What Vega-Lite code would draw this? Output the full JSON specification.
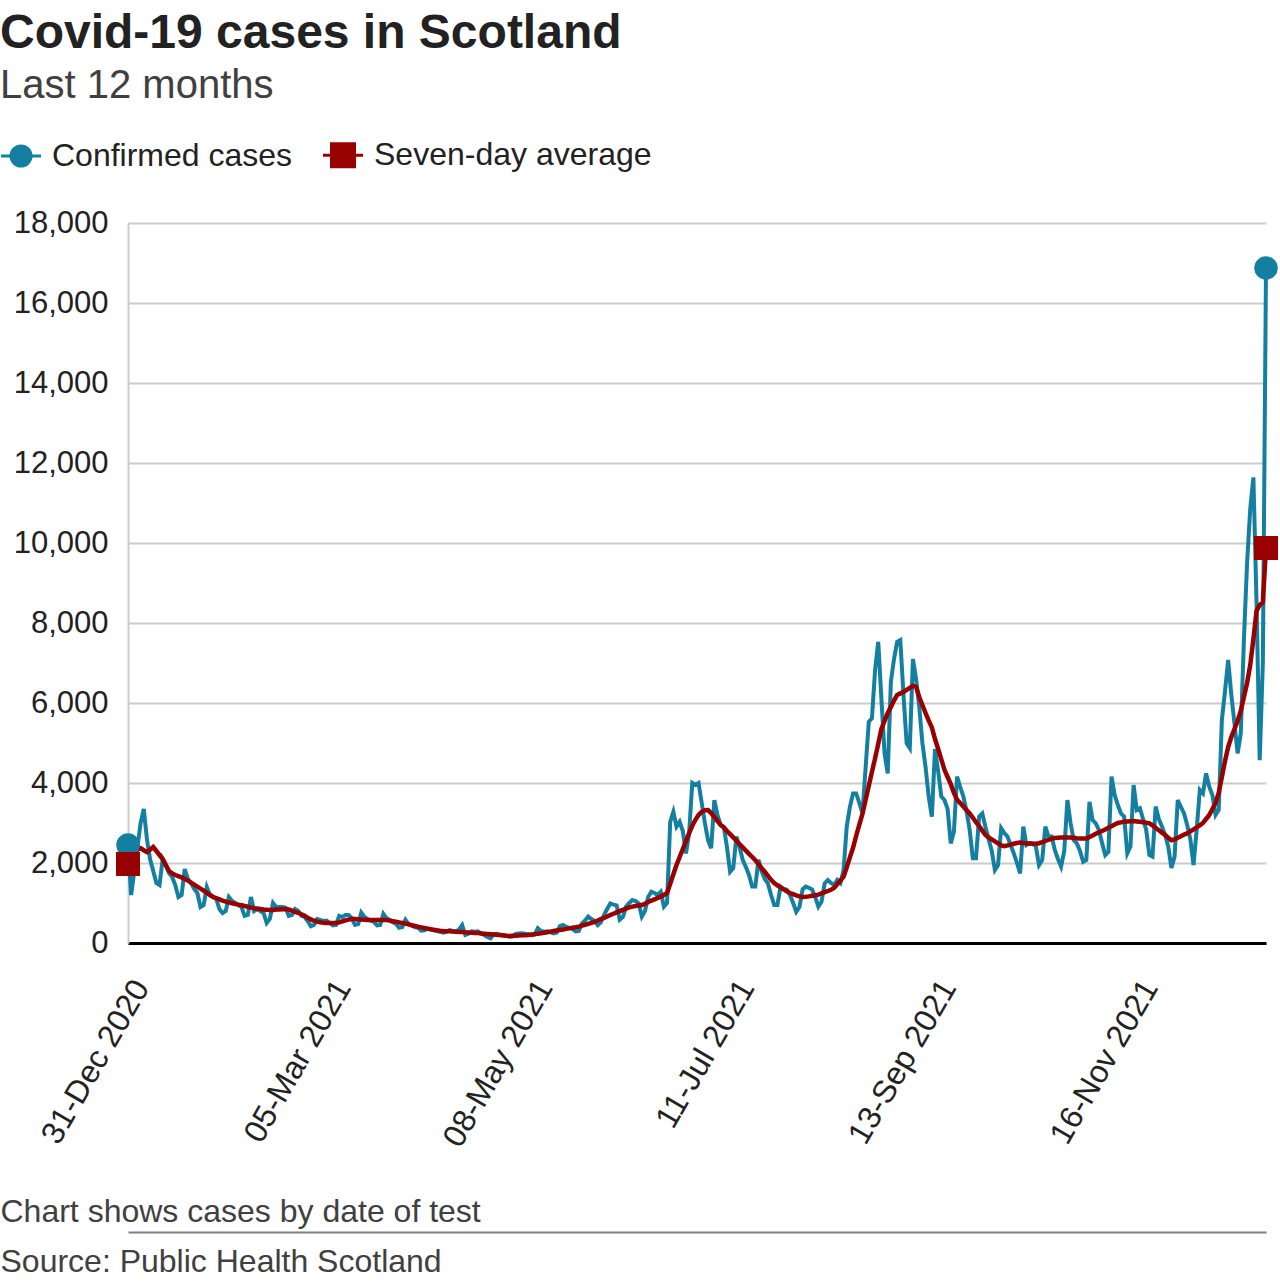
{
  "$schema": "https://vega.github.io/schema/vega-lite/v6.json",
  "width": 1138,
  "height": 720,
  "autosize": {"type": "none"},
  "padding": {"left": 128, "top": 223, "right": 14, "bottom": 345},
  "background": "white",
  "config": {"font": "Liberation Sans", "view": {"stroke": null}},
  "title": {
    "text": "Covid-19 cases in Scotland",
    "subtitle": "Last 12 months",
    "anchor": "start",
    "frame": "group",
    "dx": -128,
    "offset": 33,
    "font": "Liberation Sans",
    "fontSize": 48,
    "fontWeight": "bold",
    "color": "#222222",
    "subtitleFont": "Liberation Sans",
    "subtitleFontSize": 40,
    "subtitleColor": "#404040",
    "subtitlePadding": 8
  },
  "data": {
    "format": {"parse": {"date": "utc:'%Y-%m-%d'"}},
    "values": [
      {"date":"2020-12-31","cases":2450,"avg":1975},
      {"date":"2021-01-01","cases":1200,"avg":2100},
      {"date":"2021-01-02","cases":1800,"avg":2250},
      {"date":"2021-01-03","cases":2400,"avg":2350},
      {"date":"2021-01-04","cases":3000,"avg":2370},
      {"date":"2021-01-05","cases":3350,"avg":2320},
      {"date":"2021-01-06","cases":2600,"avg":2275},
      {"date":"2021-01-07","cases":2100,"avg":2330},
      {"date":"2021-01-08","cases":1800,"avg":2400},
      {"date":"2021-01-09","cases":1500,"avg":2300},
      {"date":"2021-01-10","cases":1450,"avg":2200},
      {"date":"2021-01-11","cases":2100,"avg":2100},
      {"date":"2021-01-12","cases":1950,"avg":1950},
      {"date":"2021-01-13","cases":1750,"avg":1800},
      {"date":"2021-01-14","cases":1650,"avg":1740},
      {"date":"2021-01-15","cases":1450,"avg":1700},
      {"date":"2021-01-16","cases":1150,"avg":1670},
      {"date":"2021-01-17","cases":1200,"avg":1640},
      {"date":"2021-01-18","cases":1850,"avg":1600},
      {"date":"2021-01-19","cases":1600,"avg":1560},
      {"date":"2021-01-20","cases":1500,"avg":1510},
      {"date":"2021-01-21","cases":1350,"avg":1460},
      {"date":"2021-01-22","cases":1250,"avg":1410},
      {"date":"2021-01-23","cases":900,"avg":1360},
      {"date":"2021-01-24","cases":950,"avg":1310},
      {"date":"2021-01-25","cases":1400,"avg":1250},
      {"date":"2021-01-26","cases":1200,"avg":1200},
      {"date":"2021-01-27","cases":1150,"avg":1150},
      {"date":"2021-01-28","cases":1100,"avg":1120},
      {"date":"2021-01-29","cases":850,"avg":1090},
      {"date":"2021-01-30","cases":750,"avg":1060},
      {"date":"2021-01-31","cases":800,"avg":1035},
      {"date":"2021-02-01","cases":1150,"avg":1015},
      {"date":"2021-02-02","cases":1050,"avg":995},
      {"date":"2021-02-03","cases":1000,"avg":975},
      {"date":"2021-02-04","cases":950,"avg":960},
      {"date":"2021-02-05","cases":900,"avg":945},
      {"date":"2021-02-06","cases":680,"avg":925},
      {"date":"2021-02-07","cases":700,"avg":905},
      {"date":"2021-02-08","cases":1150,"avg":885},
      {"date":"2021-02-09","cases":800,"avg":870},
      {"date":"2021-02-10","cases":850,"avg":860},
      {"date":"2021-02-11","cases":800,"avg":850},
      {"date":"2021-02-12","cases":750,"avg":840},
      {"date":"2021-02-13","cases":500,"avg":832},
      {"date":"2021-02-14","cases":600,"avg":825},
      {"date":"2021-02-15","cases":1000,"avg":828},
      {"date":"2021-02-16","cases":900,"avg":835},
      {"date":"2021-02-17","cases":900,"avg":840},
      {"date":"2021-02-18","cases":900,"avg":845},
      {"date":"2021-02-19","cases":880,"avg":850},
      {"date":"2021-02-20","cases":680,"avg":840},
      {"date":"2021-02-21","cases":700,"avg":810},
      {"date":"2021-02-22","cases":850,"avg":780},
      {"date":"2021-02-23","cases":800,"avg":755},
      {"date":"2021-02-24","cases":680,"avg":720},
      {"date":"2021-02-25","cases":650,"avg":680},
      {"date":"2021-02-26","cases":550,"avg":630},
      {"date":"2021-02-27","cases":420,"avg":590},
      {"date":"2021-02-28","cases":450,"avg":560},
      {"date":"2021-03-01","cases":600,"avg":535},
      {"date":"2021-03-02","cases":580,"avg":515},
      {"date":"2021-03-03","cases":550,"avg":505},
      {"date":"2021-03-04","cases":560,"avg":500},
      {"date":"2021-03-05","cases":500,"avg":498},
      {"date":"2021-03-06","cases":440,"avg":498},
      {"date":"2021-03-07","cases":450,"avg":500},
      {"date":"2021-03-08","cases":680,"avg":515},
      {"date":"2021-03-09","cases":650,"avg":540},
      {"date":"2021-03-10","cases":700,"avg":565},
      {"date":"2021-03-11","cases":700,"avg":585},
      {"date":"2021-03-12","cases":620,"avg":598},
      {"date":"2021-03-13","cases":450,"avg":600},
      {"date":"2021-03-14","cases":470,"avg":595},
      {"date":"2021-03-15","cases":760,"avg":588},
      {"date":"2021-03-16","cases":650,"avg":582},
      {"date":"2021-03-17","cases":600,"avg":577},
      {"date":"2021-03-18","cases":560,"avg":575},
      {"date":"2021-03-19","cases":530,"avg":575},
      {"date":"2021-03-20","cases":440,"avg":575},
      {"date":"2021-03-21","cases":450,"avg":575},
      {"date":"2021-03-22","cases":730,"avg":575},
      {"date":"2021-03-23","cases":620,"avg":575},
      {"date":"2021-03-24","cases":580,"avg":560},
      {"date":"2021-03-25","cases":520,"avg":545},
      {"date":"2021-03-26","cases":480,"avg":530},
      {"date":"2021-03-27","cases":380,"avg":515},
      {"date":"2021-03-28","cases":400,"avg":500},
      {"date":"2021-03-29","cases":580,"avg":485},
      {"date":"2021-03-30","cases":470,"avg":465},
      {"date":"2021-03-31","cases":440,"avg":445},
      {"date":"2021-04-01","cases":400,"avg":425},
      {"date":"2021-04-02","cases":380,"avg":405},
      {"date":"2021-04-03","cases":310,"avg":390},
      {"date":"2021-04-04","cases":320,"avg":375},
      {"date":"2021-04-05","cases":360,"avg":360},
      {"date":"2021-04-06","cases":340,"avg":345},
      {"date":"2021-04-07","cases":320,"avg":330},
      {"date":"2021-04-08","cases":300,"avg":318},
      {"date":"2021-04-09","cases":280,"avg":308},
      {"date":"2021-04-10","cases":260,"avg":300},
      {"date":"2021-04-11","cases":280,"avg":296},
      {"date":"2021-04-12","cases":320,"avg":292},
      {"date":"2021-04-13","cases":300,"avg":287},
      {"date":"2021-04-14","cases":290,"avg":282},
      {"date":"2021-04-15","cases":330,"avg":278},
      {"date":"2021-04-16","cases":450,"avg":273},
      {"date":"2021-04-17","cases":200,"avg":268},
      {"date":"2021-04-18","cases":230,"avg":263},
      {"date":"2021-04-19","cases":290,"avg":258},
      {"date":"2021-04-20","cases":280,"avg":253},
      {"date":"2021-04-21","cases":290,"avg":248},
      {"date":"2021-04-22","cases":240,"avg":240},
      {"date":"2021-04-23","cases":200,"avg":233},
      {"date":"2021-04-24","cases":150,"avg":226},
      {"date":"2021-04-25","cases":117,"avg":219},
      {"date":"2021-04-26","cases":220,"avg":212},
      {"date":"2021-04-27","cases":230,"avg":205},
      {"date":"2021-04-28","cases":210,"avg":197},
      {"date":"2021-04-29","cases":200,"avg":190},
      {"date":"2021-04-30","cases":180,"avg":183},
      {"date":"2021-05-01","cases":155,"avg":176},
      {"date":"2021-05-02","cases":160,"avg":180},
      {"date":"2021-05-03","cases":230,"avg":184},
      {"date":"2021-05-04","cases":240,"avg":188},
      {"date":"2021-05-05","cases":245,"avg":192},
      {"date":"2021-05-06","cases":230,"avg":196},
      {"date":"2021-05-07","cases":220,"avg":202},
      {"date":"2021-05-08","cases":190,"avg":212},
      {"date":"2021-05-09","cases":210,"avg":222},
      {"date":"2021-05-10","cases":370,"avg":232},
      {"date":"2021-05-11","cases":300,"avg":243},
      {"date":"2021-05-12","cases":280,"avg":256},
      {"date":"2021-05-13","cases":290,"avg":270},
      {"date":"2021-05-14","cases":270,"avg":284},
      {"date":"2021-05-15","cases":240,"avg":298},
      {"date":"2021-05-16","cases":260,"avg":312},
      {"date":"2021-05-17","cases":420,"avg":325},
      {"date":"2021-05-18","cases":450,"avg":339},
      {"date":"2021-05-19","cases":400,"avg":353},
      {"date":"2021-05-20","cases":380,"avg":366},
      {"date":"2021-05-21","cases":350,"avg":380},
      {"date":"2021-05-22","cases":290,"avg":394},
      {"date":"2021-05-23","cases":300,"avg":410},
      {"date":"2021-05-24","cases":490,"avg":433},
      {"date":"2021-05-25","cases":560,"avg":456},
      {"date":"2021-05-26","cases":660,"avg":479},
      {"date":"2021-05-27","cases":600,"avg":503},
      {"date":"2021-05-28","cases":550,"avg":530},
      {"date":"2021-05-29","cases":450,"avg":562},
      {"date":"2021-05-30","cases":520,"avg":595},
      {"date":"2021-05-31","cases":700,"avg":628},
      {"date":"2021-06-01","cases":850,"avg":661},
      {"date":"2021-06-02","cases":990,"avg":700},
      {"date":"2021-06-03","cases":960,"avg":732},
      {"date":"2021-06-04","cases":940,"avg":765},
      {"date":"2021-06-05","cases":580,"avg":797},
      {"date":"2021-06-06","cases":650,"avg":830},
      {"date":"2021-06-07","cases":910,"avg":862},
      {"date":"2021-06-08","cases":1000,"avg":890},
      {"date":"2021-06-09","cases":1075,"avg":910},
      {"date":"2021-06-10","cases":1050,"avg":925},
      {"date":"2021-06-11","cases":990,"avg":940},
      {"date":"2021-06-12","cases":660,"avg":948},
      {"date":"2021-06-13","cases":800,"avg":980},
      {"date":"2021-06-14","cases":1150,"avg":1025},
      {"date":"2021-06-15","cases":1280,"avg":1060},
      {"date":"2021-06-16","cases":1250,"avg":1090},
      {"date":"2021-06-17","cases":1200,"avg":1125},
      {"date":"2021-06-18","cases":1280,"avg":1160},
      {"date":"2021-06-19","cases":910,"avg":1200},
      {"date":"2021-06-20","cases":1000,"avg":1250},
      {"date":"2021-06-21","cases":3030,"avg":1480},
      {"date":"2021-06-22","cases":3280,"avg":1720},
      {"date":"2021-06-23","cases":2910,"avg":1950},
      {"date":"2021-06-24","cases":3030,"avg":2150},
      {"date":"2021-06-25","cases":2800,"avg":2350},
      {"date":"2021-06-26","cases":2240,"avg":2550},
      {"date":"2021-06-27","cases":2740,"avg":2750},
      {"date":"2021-06-28","cases":4000,"avg":2930},
      {"date":"2021-06-29","cases":3950,"avg":3080},
      {"date":"2021-06-30","cases":4000,"avg":3200},
      {"date":"2021-07-01","cases":3500,"avg":3280},
      {"date":"2021-07-02","cases":3000,"avg":3320},
      {"date":"2021-07-03","cases":2570,"avg":3325},
      {"date":"2021-07-04","cases":2370,"avg":3250},
      {"date":"2021-07-05","cases":3570,"avg":3150},
      {"date":"2021-07-06","cases":3200,"avg":3050},
      {"date":"2021-07-07","cases":2950,"avg":2950},
      {"date":"2021-07-08","cases":2900,"avg":2890},
      {"date":"2021-07-09","cases":2400,"avg":2800},
      {"date":"2021-07-10","cases":1780,"avg":2720},
      {"date":"2021-07-11","cases":1870,"avg":2640},
      {"date":"2021-07-12","cases":2660,"avg":2560},
      {"date":"2021-07-13","cases":2400,"avg":2470},
      {"date":"2021-07-14","cases":2080,"avg":2390},
      {"date":"2021-07-15","cases":1900,"avg":2310},
      {"date":"2021-07-16","cases":1700,"avg":2230},
      {"date":"2021-07-17","cases":1410,"avg":2150},
      {"date":"2021-07-18","cases":1410,"avg":2070},
      {"date":"2021-07-19","cases":2080,"avg":1970},
      {"date":"2021-07-20","cases":1800,"avg":1870},
      {"date":"2021-07-21","cases":1600,"avg":1780},
      {"date":"2021-07-22","cases":1490,"avg":1680},
      {"date":"2021-07-23","cases":1200,"avg":1580},
      {"date":"2021-07-24","cases":950,"avg":1500},
      {"date":"2021-07-25","cases":950,"avg":1440},
      {"date":"2021-07-26","cases":1410,"avg":1390},
      {"date":"2021-07-27","cases":1350,"avg":1340},
      {"date":"2021-07-28","cases":1330,"avg":1290},
      {"date":"2021-07-29","cases":1200,"avg":1250},
      {"date":"2021-07-30","cases":1000,"avg":1220},
      {"date":"2021-07-31","cases":780,"avg":1190},
      {"date":"2021-08-01","cases":900,"avg":1165},
      {"date":"2021-08-02","cases":1340,"avg":1150},
      {"date":"2021-08-03","cases":1410,"avg":1155},
      {"date":"2021-08-04","cases":1380,"avg":1165},
      {"date":"2021-08-05","cases":1340,"avg":1180},
      {"date":"2021-08-06","cases":1150,"avg":1195},
      {"date":"2021-08-07","cases":910,"avg":1210},
      {"date":"2021-08-08","cases":1030,"avg":1240},
      {"date":"2021-08-09","cases":1490,"avg":1270},
      {"date":"2021-08-10","cases":1575,"avg":1300},
      {"date":"2021-08-11","cases":1500,"avg":1330},
      {"date":"2021-08-12","cases":1450,"avg":1380},
      {"date":"2021-08-13","cases":1575,"avg":1470},
      {"date":"2021-08-14","cases":1500,"avg":1560},
      {"date":"2021-08-15","cases":1825,"avg":1660},
      {"date":"2021-08-16","cases":2910,"avg":1890},
      {"date":"2021-08-17","cases":3400,"avg":2140},
      {"date":"2021-08-18","cases":3740,"avg":2380},
      {"date":"2021-08-19","cases":3740,"avg":2680},
      {"date":"2021-08-20","cases":3500,"avg":2960},
      {"date":"2021-08-21","cases":3240,"avg":3230},
      {"date":"2021-08-22","cases":4400,"avg":3580},
      {"date":"2021-08-23","cases":5530,"avg":3930},
      {"date":"2021-08-24","cases":5620,"avg":4280},
      {"date":"2021-08-25","cases":6830,"avg":4620},
      {"date":"2021-08-26","cases":7530,"avg":4980},
      {"date":"2021-08-27","cases":6100,"avg":5350},
      {"date":"2021-08-28","cases":4740,"avg":5550},
      {"date":"2021-08-29","cases":4240,"avg":5750},
      {"date":"2021-08-30","cases":6530,"avg":5900},
      {"date":"2021-08-31","cases":7100,"avg":6060},
      {"date":"2021-09-01","cases":7530,"avg":6200},
      {"date":"2021-09-02","cases":7575,"avg":6240},
      {"date":"2021-09-03","cases":6200,"avg":6275},
      {"date":"2021-09-04","cases":4990,"avg":6330},
      {"date":"2021-09-05","cases":4870,"avg":6380},
      {"date":"2021-09-06","cases":7100,"avg":6430},
      {"date":"2021-09-07","cases":6600,"avg":6400},
      {"date":"2021-09-08","cases":5910,"avg":6150},
      {"date":"2021-09-09","cases":5000,"avg":5950},
      {"date":"2021-09-10","cases":4400,"avg":5750},
      {"date":"2021-09-11","cases":3660,"avg":5560},
      {"date":"2021-09-12","cases":3160,"avg":5390},
      {"date":"2021-09-13","cases":4850,"avg":5100},
      {"date":"2021-09-14","cases":4300,"avg":4850},
      {"date":"2021-09-15","cases":3660,"avg":4590},
      {"date":"2021-09-16","cases":3575,"avg":4330},
      {"date":"2021-09-17","cases":3350,"avg":4150},
      {"date":"2021-09-18","cases":2490,"avg":3970},
      {"date":"2021-09-19","cases":2780,"avg":3750},
      {"date":"2021-09-20","cases":4160,"avg":3580},
      {"date":"2021-09-21","cases":3900,"avg":3500},
      {"date":"2021-09-22","cases":3660,"avg":3410},
      {"date":"2021-09-23","cases":3300,"avg":3320},
      {"date":"2021-09-24","cases":2825,"avg":3240},
      {"date":"2021-09-25","cases":2120,"avg":3130},
      {"date":"2021-09-26","cases":2120,"avg":3020},
      {"date":"2021-09-27","cases":3160,"avg":2920},
      {"date":"2021-09-28","cases":3240,"avg":2810},
      {"date":"2021-09-29","cases":2900,"avg":2700},
      {"date":"2021-09-30","cases":2600,"avg":2640},
      {"date":"2021-10-01","cases":2300,"avg":2590},
      {"date":"2021-10-02","cases":1825,"avg":2540},
      {"date":"2021-10-03","cases":1950,"avg":2490},
      {"date":"2021-10-04","cases":2870,"avg":2440},
      {"date":"2021-10-05","cases":2750,"avg":2420},
      {"date":"2021-10-06","cases":2660,"avg":2440},
      {"date":"2021-10-07","cases":2450,"avg":2460},
      {"date":"2021-10-08","cases":2240,"avg":2480},
      {"date":"2021-10-09","cases":2000,"avg":2500},
      {"date":"2021-10-10","cases":1740,"avg":2510},
      {"date":"2021-10-11","cases":2910,"avg":2500},
      {"date":"2021-10-12","cases":2450,"avg":2490},
      {"date":"2021-10-13","cases":2500,"avg":2485},
      {"date":"2021-10-14","cases":2490,"avg":2480},
      {"date":"2021-10-15","cases":2410,"avg":2480},
      {"date":"2021-10-16","cases":1950,"avg":2495},
      {"date":"2021-10-17","cases":2075,"avg":2520},
      {"date":"2021-10-18","cases":2910,"avg":2550},
      {"date":"2021-10-19","cases":2660,"avg":2580},
      {"date":"2021-10-20","cases":2660,"avg":2610},
      {"date":"2021-10-21","cases":2325,"avg":2625},
      {"date":"2021-10-22","cases":2100,"avg":2630},
      {"date":"2021-10-23","cases":1910,"avg":2635},
      {"date":"2021-10-24","cases":2300,"avg":2640},
      {"date":"2021-10-25","cases":3575,"avg":2640},
      {"date":"2021-10-26","cases":3000,"avg":2640},
      {"date":"2021-10-27","cases":2575,"avg":2630},
      {"date":"2021-10-28","cases":2490,"avg":2620},
      {"date":"2021-10-29","cases":2300,"avg":2615},
      {"date":"2021-10-30","cases":2030,"avg":2610},
      {"date":"2021-10-31","cases":2075,"avg":2610},
      {"date":"2021-11-01","cases":3530,"avg":2650},
      {"date":"2021-11-02","cases":3075,"avg":2690},
      {"date":"2021-11-03","cases":2990,"avg":2730},
      {"date":"2021-11-04","cases":2825,"avg":2770},
      {"date":"2021-11-05","cases":2500,"avg":2800},
      {"date":"2021-11-06","cases":2200,"avg":2840},
      {"date":"2021-11-07","cases":2280,"avg":2880},
      {"date":"2021-11-08","cases":4160,"avg":2920},
      {"date":"2021-11-09","cases":3700,"avg":2960},
      {"date":"2021-11-10","cases":3450,"avg":3000},
      {"date":"2021-11-11","cases":3240,"avg":3015},
      {"date":"2021-11-12","cases":3160,"avg":3030},
      {"date":"2021-11-13","cases":2240,"avg":3040},
      {"date":"2021-11-14","cases":2410,"avg":3045},
      {"date":"2021-11-15","cases":3950,"avg":3050},
      {"date":"2021-11-16","cases":3325,"avg":3040},
      {"date":"2021-11-17","cases":3370,"avg":3030},
      {"date":"2021-11-18","cases":3100,"avg":3020},
      {"date":"2021-11-19","cases":2825,"avg":3010},
      {"date":"2021-11-20","cases":2200,"avg":2990},
      {"date":"2021-11-21","cases":2160,"avg":2940},
      {"date":"2021-11-22","cases":3410,"avg":2880},
      {"date":"2021-11-23","cases":3100,"avg":2820},
      {"date":"2021-11-24","cases":2910,"avg":2760},
      {"date":"2021-11-25","cases":2700,"avg":2700},
      {"date":"2021-11-26","cases":2410,"avg":2630},
      {"date":"2021-11-27","cases":1875,"avg":2570},
      {"date":"2021-11-28","cases":2160,"avg":2590},
      {"date":"2021-11-29","cases":3575,"avg":2630},
      {"date":"2021-11-30","cases":3400,"avg":2670},
      {"date":"2021-12-01","cases":3240,"avg":2710},
      {"date":"2021-12-02","cases":2950,"avg":2740},
      {"date":"2021-12-03","cases":2600,"avg":2790},
      {"date":"2021-12-04","cases":1950,"avg":2840},
      {"date":"2021-12-05","cases":2825,"avg":2890},
      {"date":"2021-12-06","cases":3825,"avg":2940},
      {"date":"2021-12-07","cases":3740,"avg":3000},
      {"date":"2021-12-08","cases":4240,"avg":3100},
      {"date":"2021-12-09","cases":3910,"avg":3200},
      {"date":"2021-12-10","cases":3700,"avg":3350},
      {"date":"2021-12-11","cases":3200,"avg":3500},
      {"date":"2021-12-12","cases":3325,"avg":3750},
      {"date":"2021-12-13","cases":5575,"avg":4150},
      {"date":"2021-12-14","cases":6300,"avg":4550},
      {"date":"2021-12-15","cases":7075,"avg":4900},
      {"date":"2021-12-16","cases":6200,"avg":5150},
      {"date":"2021-12-17","cases":5490,"avg":5350},
      {"date":"2021-12-18","cases":4740,"avg":5550},
      {"date":"2021-12-19","cases":5240,"avg":5800},
      {"date":"2021-12-20","cases":7600,"avg":6150},
      {"date":"2021-12-21","cases":9500,"avg":6500},
      {"date":"2021-12-22","cases":10860,"avg":6950},
      {"date":"2021-12-23","cases":11640,"avg":7600},
      {"date":"2021-12-24","cases":8500,"avg":8300},
      {"date":"2021-12-25","cases":4570,"avg":8450},
      {"date":"2021-12-26","cases":7000,"avg":8520},
      {"date":"2021-12-27","cases":16875,"avg":9875}
    ]
  },
  "resolve": {"axis": {"x": "independent"}},
  "encoding": {
    "x": {
      "field": "date",
      "type": "temporal",
      "scale": {
        "type": "utc",
        "domain": [
          {"year": 2020, "month": 12, "date": 31, "utc": true},
          {"year": 2021, "month": 12, "date": 27, "utc": true}
        ],
        "nice": false
      },
      "axis": {
        "values": [
          {"year": 2020, "month": 12, "date": 31, "utc": true},
          {"year": 2021, "month": 3, "date": 5, "utc": true},
          {"year": 2021, "month": 5, "date": 8, "utc": true},
          {"year": 2021, "month": 7, "date": 11, "utc": true},
          {"year": 2021, "month": 9, "date": 13, "utc": true},
          {"year": 2021, "month": 11, "date": 16, "utc": true}
        ],
        "orient": "bottom",
        "format": "%d-%b %Y",
        "labelAngle": -60,
        "labelAlign": "right",
        "labelBaseline": "middle",
        "labelFont": "Liberation Sans",
        "labelFontSize": 32,
        "labelColor": "#222222",
        "labelPadding": 39,
        "labelOffset": 13,
        "labelLimit": 0,
        "labelFlush": false,
        "labelOverlap": false,
        "labelBound": false,
        "ticks": false,
        "grid": false,
        "domainColor": "#000000",
        "domainWidth": 3,
        "title": "Chart shows cases by date of test",
        "titleX": -128,
        "titleY": 278,
        "titleAlign": "left",
        "titleBaseline": "alphabetic",
        "titleFont": "Liberation Sans",
        "titleFontSize": 32,
        "titleFontWeight": "normal",
        "titleColor": "#404040"
      }
    },
    "y": {
      "field": "value",
      "type": "quantitative",
      "scale": {"domain": [0, 18000], "nice": false},
      "axis": {
        "values": [0, 2000, 4000, 6000, 8000, 10000, 12000, 14000, 16000, 18000],
        "format": ",d",
        "labelFont": "Liberation Sans",
        "labelFontSize": 31,
        "labelColor": "#222222",
        "labelPadding": 20,
        "ticks": false,
        "grid": true,
        "gridColor": "#cccccc",
        "gridWidth": 2,
        "domainColor": "#cccccc",
        "domainWidth": 2,
        "title": "Source: Public Health Scotland",
        "titleAngle": 0,
        "titleX": -128,
        "titleY": 1048,
        "titleAlign": "left",
        "titleBaseline": "alphabetic",
        "titleFont": "Liberation Sans",
        "titleFontSize": 32,
        "titleFontWeight": "normal",
        "titleColor": "#404040"
      }
    }
  },
  "layer": [
    {
      "transform": [
        {"fold": ["cases", "avg"], "as": ["series", "value"]},
        {"filter": "datum.series == 'cases'"}
      ],
      "mark": {"type": "line", "strokeWidth": 4},
      "encoding": {
        "color": {
          "field": "series",
          "type": "nominal",
          "scale": {"domain": ["cases", "avg"], "range": ["#1380A1", "#990000"]},
          "legend": {
            "orient": "none",
            "legendX": -123,
            "legendY": -84,
            "direction": "horizontal",
            "title": null,
            "padding": 0,
            "labelExpr": "datum.value == 'cases' ? 'Confirmed cases' : 'Seven-day average'",
            "labelFont": "Liberation Sans",
            "labelFontSize": 32,
            "labelColor": "#222222",
            "labelLimit": 0,
            "labelOffset": 15,
            "columnPadding": 24,
            "symbolSize": 400,
            "symbolStrokeWidth": 3,
            "encode": {
              "symbols": {
                "update": {
                  "shape": {"signal": "datum.value == 'cases' ? 'M-2,0L2,0M1,0A1,1,0,1,1,-1,0A1,1,0,1,1,1,0Z' : 'M-2,0L2,0M-1.15,-1.15L1.15,-1.15L1.15,1.15L-1.15,1.15Z'"},
                  "fill": {"signal": "scale('color', datum.value)"},
                  "stroke": {"signal": "scale('color', datum.value)"},
                  "fillOpacity": {"value": 1},
                  "strokeOpacity": {"value": 1},
                  "strokeWidth": {"value": 3}
                }
              }
            }
          }
        }
      }
    },
    {
      "transform": [
        {"fold": ["cases", "avg"], "as": ["series", "value"]},
        {"filter": "datum.series == 'avg'"}
      ],
      "mark": {"type": "line", "strokeWidth": 4.5},
      "encoding": {
        "x": {"field": "date", "type": "temporal", "axis": null},
        "color": {"field": "series", "type": "nominal"}
      }
    },
    {
      "transform": [
        {"fold": ["cases", "avg"], "as": ["series", "value"]},
        {"filter": "datum.series == 'cases' && (time(datum.date) == utc(2020, 11, 31) || time(datum.date) == utc(2021, 11, 27))"}
      ],
      "mark": {"type": "circle", "size": 550, "color": "#1380A1", "opacity": 1},
      "encoding": {
        "x": {
          "field": "date",
          "type": "temporal",
          "axis": {
            "orient": "bottom",
            "offset": 289,
            "domain": true,
            "domainColor": "#808080",
            "domainWidth": 2,
            "labels": false,
            "ticks": false,
            "grid": false,
            "title": null
          }
        }
      }
    },
    {
      "transform": [
        {"fold": ["cases", "avg"], "as": ["series", "value"]},
        {"filter": "datum.series == 'avg' && (time(datum.date) == utc(2020, 11, 31) || time(datum.date) == utc(2021, 11, 27))"}
      ],
      "mark": {"type": "square", "size": 576, "color": "#990000", "opacity": 1},
      "encoding": {
        "x": {"field": "date", "type": "temporal", "axis": null}
      }
    }
  ]
}
